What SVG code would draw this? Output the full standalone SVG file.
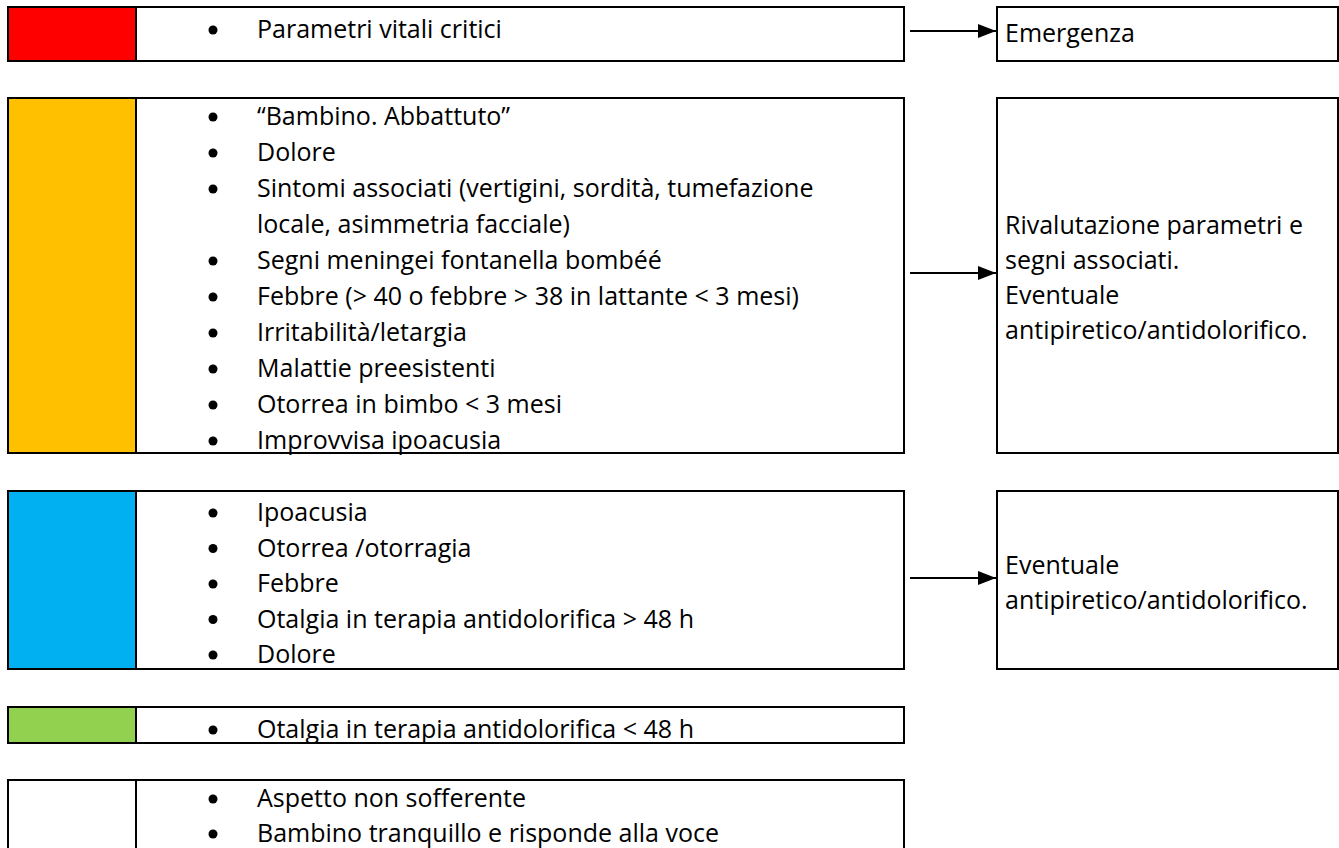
<svg xmlns="http://www.w3.org/2000/svg" width="1339" height="848" viewBox="0 0 1339 848">
<defs>
<marker id="ah" markerWidth="9" markerHeight="7" refX="9" refY="3.5" orient="auto" markerUnits="strokeWidth">
<path d="M0,0 L9,3.5 L0,7 z" fill="#000"/>
</marker>
<style>
.box{fill:#fff;stroke:#000;stroke-width:2}
.sw{stroke:#000;stroke-width:2}
.t{font-family:"Open Sans","Noto Sans",sans-serif;font-size:25px;fill:#000}
.b{fill:#000}
.c{stroke:#000;stroke-width:2;fill:none}
</style>
</defs>
<rect width="1339" height="848" fill="#fff"/>

<g id="red">
<rect class="box" x="8" y="7" width="896" height="54"/>
<rect class="sw" x="8" y="7" width="128" height="54" fill="#FF0000"/>
<circle class="b" cx="213" cy="30" r="4.5"/>
<text class="t" x="257" y="38">Parametri vitali critici</text>
</g>

<g id="yellow">
<rect class="box" x="8" y="98" width="896" height="355"/>
<rect class="sw" x="8" y="98" width="128" height="355" fill="#FFC000"/>
<circle class="b" cx="213" cy="117" r="4.5"/>
<circle class="b" cx="213" cy="153" r="4.5"/>
<circle class="b" cx="213" cy="189" r="4.5"/>
<circle class="b" cx="213" cy="261" r="4.5"/>
<circle class="b" cx="213" cy="297" r="4.5"/>
<circle class="b" cx="213" cy="333" r="4.5"/>
<circle class="b" cx="213" cy="369" r="4.5"/>
<circle class="b" cx="213" cy="405" r="4.5"/>
<circle class="b" cx="213" cy="441" r="4.5"/>
<text class="t" x="257" y="125">“Bambino. Abbattuto”</text>
<text class="t" x="257" y="161">Dolore</text>
<text class="t" x="257" y="197">Sintomi associati (vertigini, sordità, tumefazione</text>
<text class="t" x="257" y="233">locale, asimmetria facciale)</text>
<text class="t" x="257" y="269">Segni meningei fontanella bombéé</text>
<text class="t" x="257" y="305">Febbre (&gt; 40 o febbre &gt; 38 in lattante &lt; 3 mesi)</text>
<text class="t" x="257" y="341">Irritabilità/letargia</text>
<text class="t" x="257" y="377">Malattie preesistenti</text>
<text class="t" x="257" y="413">Otorrea in bimbo &lt; 3 mesi</text>
<text class="t" x="257" y="449">Improvvisa ipoacusia</text>
</g>

<g id="blue">
<rect class="box" x="8" y="491" width="896" height="178"/>
<rect class="sw" x="8" y="491" width="128" height="178" fill="#00B0F0"/>
<circle class="b" cx="213" cy="513" r="4.5"/>
<circle class="b" cx="213" cy="548.5" r="4.5"/>
<circle class="b" cx="213" cy="584" r="4.5"/>
<circle class="b" cx="213" cy="619.5" r="4.5"/>
<circle class="b" cx="213" cy="655" r="4.5"/>
<text class="t" x="257" y="521">Ipoacusia</text>
<text class="t" x="257" y="556.5">Otorrea /otorragia</text>
<text class="t" x="257" y="592">Febbre</text>
<text class="t" x="257" y="627.5">Otalgia in terapia antidolorifica &gt; 48 h</text>
<text class="t" x="257" y="663">Dolore</text>
</g>

<g id="green">
<rect class="box" x="8" y="707" width="896" height="36"/>
<rect class="sw" x="8" y="707" width="128" height="36" fill="#92D050"/>
<circle class="b" cx="213" cy="730" r="4.5"/>
<text class="t" x="257" y="738">Otalgia in terapia antidolorifica &lt; 48 h</text>
</g>

<g id="white">
<rect class="box" x="8" y="780" width="896" height="90"/>
<line class="sw" x1="136" y1="780" x2="136" y2="870"/>
<circle class="b" cx="213" cy="799" r="4.5"/>
<circle class="b" cx="213" cy="834" r="4.5"/>
<text class="t" x="257" y="807">Aspetto non sofferente</text>
<text class="t" x="257" y="842">Bambino tranquillo e risponde alla voce</text>
</g>

<g id="out-emergenza">
<rect class="box" x="997" y="7" width="341" height="54"/>
<text class="t" x="1005" y="42">Emergenza</text>
</g>

<g id="out-rivalutazione">
<rect class="box" x="997" y="98" width="341" height="355"/>
<text class="t" x="1005" y="234">Rivalutazione parametri e</text>
<text class="t" x="1005" y="269">segni associati.</text>
<text class="t" x="1005" y="304">Eventuale</text>
<text class="t" x="1005" y="339">antipiretico/antidolorifico.</text>
</g>

<g id="out-eventuale">
<rect class="box" x="997" y="491" width="341" height="178"/>
<text class="t" x="1005" y="574">Eventuale</text>
<text class="t" x="1005" y="609">antipiretico/antidolorifico.</text>
</g>

<g id="connectors">
<line class="c" x1="910" y1="31" x2="996" y2="31" marker-end="url(#ah)"/>
<line class="c" x1="910" y1="273" x2="996" y2="273" marker-end="url(#ah)"/>
<line class="c" x1="910" y1="578" x2="996" y2="578" marker-end="url(#ah)"/>
</g>
</svg>
